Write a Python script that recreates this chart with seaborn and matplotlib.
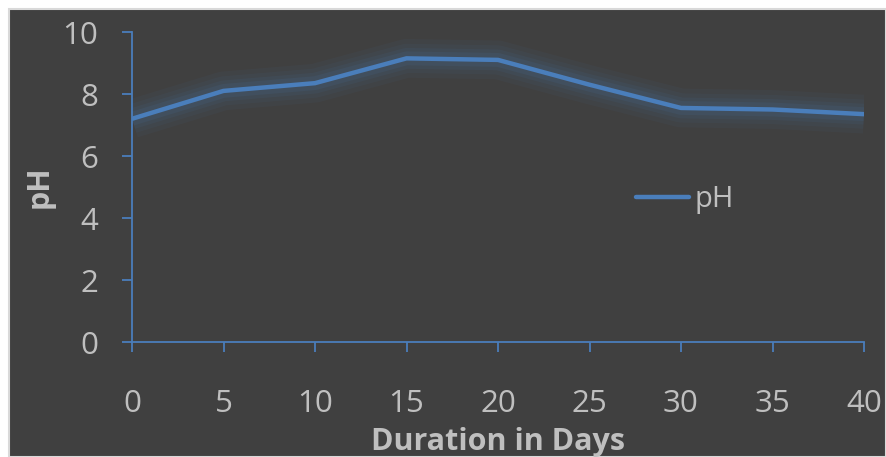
import matplotlib
matplotlib.use("Agg")
import matplotlib.pyplot as plt
import matplotlib.patches as mpatches
import pandas as pd
import seaborn as sns

days = [0, 5, 10, 15, 20, 25, 30, 35, 40]
ph_values = [7.2, 8.1, 8.35, 9.15, 9.1, 8.3, 7.55, 7.5, 7.35]
x_ticks = [0, 5, 10, 15, 20, 25, 30, 35, 40]
y_ticks = [0, 2, 4, 6, 8, 10]

df = pd.DataFrame({"Duration in Days": days, "pH": ph_values})

sns.set_theme(style="dark")
plt.rcParams["font.family"] = ["Open Sans", "DejaVu Sans"]

BG = "#404040"
TXT = "#bfbfbf"
BLUE = "#4a7ebb"

fig = plt.figure(figsize=(8.86, 4.57), dpi=100)
fig.patch.set_facecolor("white")

# dark chart area with thin light border on the left/top
bg_ax = fig.add_axes([0, 0, 1, 1], zorder=-5)
bg_ax.set_axis_off()
bg_ax.set_xlim(0, 886)
bg_ax.set_ylim(457, 0)
bg_ax.add_patch(mpatches.Rectangle((9, 9), 886 - 9, 457 - 9, facecolor=BG,
                                   edgecolor="#d9d9d9", linewidth=1.5))

ax = fig.add_axes([132 / 886, 1 - 342 / 457, (864 - 132) / 886, (342 - 32) / 457])
ax.set_facecolor("none")

# soft glow underneath the line
for lw, a in [(28, 0.05), (21, 0.06), (15, 0.08), (10, 0.10)]:
    ax.plot(df["Duration in Days"], df["pH"], color=BLUE, lw=lw, alpha=a,
            solid_joinstyle="round", solid_capstyle="butt", zorder=2)

sns.lineplot(data=df, x="Duration in Days", y="pH", ax=ax, color=BLUE,
             linewidth=3.2, label="pH", zorder=3)

ax.set_xlim(0, 40)
ax.set_ylim(0, 10)
ax.set_xticks(x_ticks)
ax.set_yticks(y_ticks)
ax.grid(False)

for side in ["top", "right"]:
    ax.spines[side].set_visible(False)
for side in ["left", "bottom"]:
    ax.spines[side].set_color(BLUE)
    ax.spines[side].set_linewidth(1.3)

ax.tick_params(axis="both", which="major", bottom=True, left=True,
               direction="out", length=7.5, width=1.3,
               color=BLUE, labelcolor=TXT, labelsize=22.5)
ax.tick_params(axis="x", pad=26)
ax.tick_params(axis="y", pad=17)

ax.set_xlabel("Duration in Days", fontsize=22, fontweight="bold", color=TXT)
ax.xaxis.set_label_coords(0.5, -0.322)
ax.xaxis.label.set_va("center")
ax.set_ylabel("pH", fontsize=22, fontweight="bold", color=TXT)
ax.yaxis.set_label_coords(-0.126, 0.5)
ax.yaxis.label.set_va("center")

leg = ax.legend(loc="center left", bbox_to_anchor=(0.653, 0.46), frameon=False,
                fontsize=21, handlelength=1.8, handletextpad=0.2)
for t in leg.get_texts():
    t.set_color(TXT)

fig.savefig("out.png", dpi=100, facecolor=fig.get_facecolor())
